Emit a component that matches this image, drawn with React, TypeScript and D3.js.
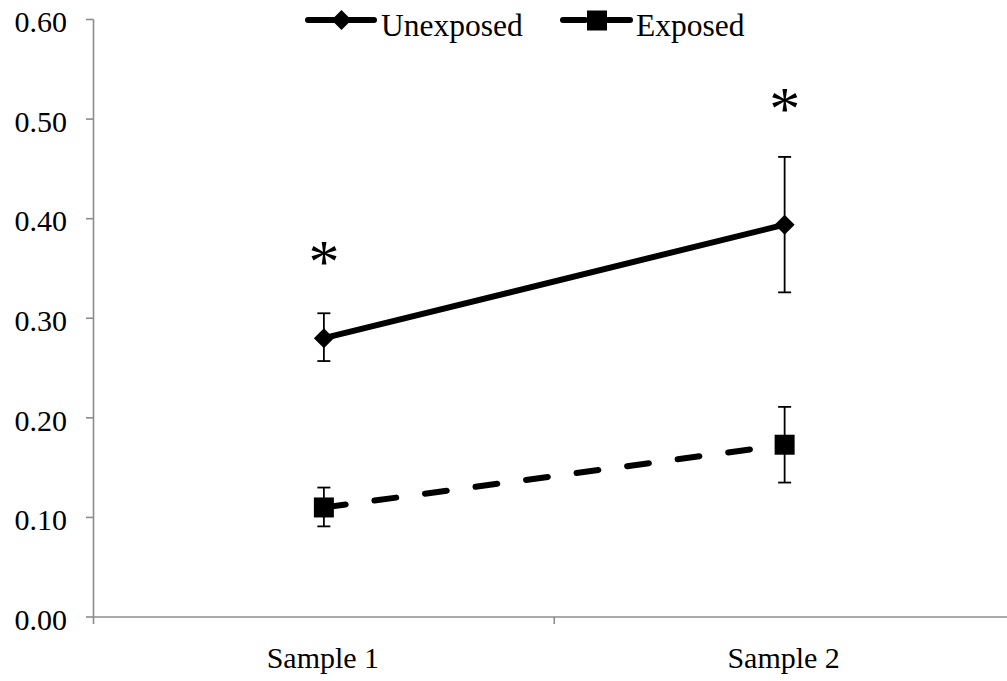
import React from "react";
import * as d3 from "d3";

// categories along the x axis
const samples = ["Sample 1", "Sample 2"];

// means and error bar ends
const unexposedMean = [0.28, 0.394];
const unexposedLow = [0.257, 0.326];
const unexposedHigh = [0.305, 0.462];

const exposedMean = [0.11, 0.173];
const exposedLow = [0.091, 0.135];
const exposedHigh = [0.13, 0.211];

// samples marked as significant
const significant = [true, true];
const starValue = [0.365, 0.518];

const yTicks = [0, 0.1, 0.2, 0.3, 0.4, 0.5, 0.6];

const W = 1007;
const H = 681;
const FONT = "'Liberation Serif', 'Times New Roman', serif";

export default function App() {
  const x = d3.scaleBand<string>().domain(samples).range([93.5, 1015]);
  const y = d3.scaleLinear().domain([0, 0.6]).range([617, 19.5]);
  const cx = (s: string) => (x(s) ?? 0) + x.bandwidth() / 2;

  const line = d3
    .line<number>()
    .x((_, i) => cx(samples[i]))
    .y((d) => y(d));

  const diamond = (px: number, py: number, r = 10) =>
    `M${px},${py - r}L${px + r},${py}L${px},${py + r}L${px - r},${py}Z`;

  const errorBars = (lo: number[], hi: number[]) =>
    samples.map((s, i) => {
      const px = cx(s);
      return (
        <g key={s} stroke="#000" strokeWidth={1.8}>
          <line x1={px} x2={px} y1={y(hi[i])} y2={y(lo[i])} />
          <line x1={px - 6.5} x2={px + 6.5} y1={y(hi[i])} y2={y(hi[i])} />
          <line x1={px - 6.5} x2={px + 6.5} y1={y(lo[i])} y2={y(lo[i])} />
        </g>
      );
    });

  const txt = (
    tx: number,
    ty: number,
    s: string,
    anchor: "start" | "middle" | "end",
    size = 30
  ) => (
    <text
      x={tx}
      y={ty}
      textAnchor={anchor}
      fontFamily={FONT}
      fontSize={size}
      fill="#000"
    >
      {s}
    </text>
  );

  const xTickPos = [93.5, ...samples.slice(1).map((s) => x(s) ?? 0), 1015];

  return (
    <svg
      width={W}
      height={H}
      style={{ position: "absolute", left: 0, top: 0, background: "#fff" }}
    >
      {/* axes */}
      <g stroke="#8c8c8c" strokeWidth={1.6} fill="none">
        <line x1={93.5} x2={93.5} y1={y(0.6)} y2={y(0)} />
        <line x1={93.5} x2={1015} y1={y(0)} y2={y(0)} />
        {yTicks.map((t) => (
          <line key={t} x1={86} x2={93.5} y1={y(t)} y2={y(t)} />
        ))}
        {xTickPos.map((p, i) => (
          <line key={i} x1={p} x2={p} y1={y(0)} y2={y(0) + 7} />
        ))}
      </g>
      {yTicks.map((t) => (
        <React.Fragment key={t}>{txt(67, y(t) + 12.8, t.toFixed(2), "end")}</React.Fragment>
      ))}
      {samples.map((s) => (
        <React.Fragment key={s}>{txt(cx(s) - 1, 668, s, "middle")}</React.Fragment>
      ))}

      {/* error bars */}
      {errorBars(unexposedLow, unexposedHigh)}
      {errorBars(exposedLow, exposedHigh)}

      {/* series lines */}
      <path
        d={line(unexposedMean) ?? ""}
        fill="none"
        stroke="#000"
        strokeWidth={6}
        strokeLinecap="round"
      />
      <path
        d={line(exposedMean) ?? ""}
        fill="none"
        stroke="#000"
        strokeWidth={6}
        strokeLinecap="round"
        strokeDasharray="22 29"
      />

      {/* markers */}
      {samples.map((s, i) => (
        <path key={"u" + s} d={diamond(cx(s), y(unexposedMean[i]))} fill="#000" />
      ))}
      {samples.map((s, i) => (
        <rect
          key={"e" + s}
          x={cx(s) - 10}
          y={y(exposedMean[i]) - 10}
          width={20}
          height={20}
          fill="#000"
        />
      ))}

      {/* significance stars */}
      {samples.map((s, i) =>
        significant[i] ? (
          <React.Fragment key={"s" + s}>
            {txt(cx(s), y(starValue[i]) + 28, "*", "middle", 62)}
          </React.Fragment>
        ) : null
      )}

      {/* legend */}
      <g>
        <line x1={308} x2={374} y1={20} y2={20} stroke="#000" strokeWidth={6} strokeLinecap="round" />
        <path d={diamond(341.5, 20)} fill="#000" />
        {txt(381, 36, "Unexposed", "start", 31.5)}
        <line
          x1={563}
          x2={630}
          y1={20}
          y2={20}
          stroke="#000"
          strokeWidth={6}
          strokeLinecap="round"
          strokeDasharray="22 23 22"
        />
        <rect x={587} y={10.5} width={20} height={20} fill="#000" />
        {txt(636, 36, "Exposed", "start", 31.5)}
      </g>
    </svg>
  );
}
